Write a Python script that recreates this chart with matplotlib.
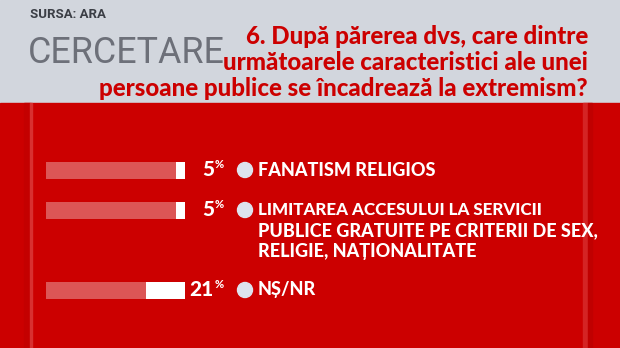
import matplotlib.pyplot as plt
from matplotlib.patches import Rectangle, Circle

# data
labels = [
    "FANATISM RELIGIOS",
    "LIMITAREA ACCESULUI LA SERVICII\nPUBLICE GRATUITE PE CRITERII DE SEX,\nRELIGIE, NAȚIONALITATE",
    "NȘ/NR",
]
values = [5, 5, 21]
title_lines = [
    "6. După părerea dvs, care dintre",
    "următoarele caracteristici ale unei",
    "persoane publice se încadrează la extremism?",
]
source = "SURSA: ARA"
brand = "CERCETARE"

# layout (pixels, top-down)
W, H = 620, 348
row_y = [170, 210, 290]
TRACK = 75

RED = "#cc0000"
GREY_BG = "#d2d6dd"
TRACK_C = "#dc5656"

fig = plt.figure(figsize=(W / 100, H / 100), dpi=100)
bg = fig.add_axes([0, 0, 1, 1])
bg.set_xlim(0, W)
bg.set_ylim(H, 0)
bg.axis("off")
renderer = fig.canvas.get_renderer()


def fit(t, width):
    # shrink/grow a text so it spans `width` pixels
    w = t.get_window_extent(renderer).width
    t.set_fontsize(t.get_fontsize() * width / w)


bg.add_patch(Rectangle((0, 0), W, 103, color=GREY_BG, zorder=0))
bg.add_patch(Rectangle((0, 103), W, H - 103, color=RED, zorder=0))
# subtle folds
bg.add_patch(Rectangle((24, 103), 6, H - 103, color="#c40000", zorder=1))
bg.add_patch(Rectangle((30, 103), 2, H - 103, color="#d83030", zorder=1))
bg.add_patch(Rectangle((583, 103), 5, H - 103, color="#d42424", zorder=1))
bg.add_patch(Rectangle((588, 103), 4, H - 103, color="#c00000", zorder=1))

heavy = dict(family=["Lato", "Open Sans", "DejaVu Sans"], weight="black")
narrow = ["Roboto", "DejaVu Sans"]

bg.text(30, 15, source, family=narrow, weight="bold", fontsize=9.5,
        color="#3b3e45", va="center", ha="left")
t = bg.text(28, 53, brand, family=narrow, weight="normal", fontsize=40,
            color="#6d7079", va="center", ha="left")
fit(t, 196)

tl = []
for i, line in enumerate(title_lines):
    tl.append(bg.text(588, 36 + i * 26, line, color=RED, fontsize=16,
                      ha="right", va="center", **heavy))
w = tl[2].get_window_extent(renderer).width
for t in tl:
    t.set_fontsize(16 * 488 / w)

for y, v, lab in zip(row_y, values, labels):
    bg.text(214, y, str(v), color="white", fontsize=15, ha="right",
            va="center", **heavy)
    bg.text(215, y - 5, "%", color="white", fontsize=8, ha="left",
            va="center", **heavy)
    bg.add_patch(Circle((245, y), 7.5, color="#dde3ee", zorder=3))
    for k, part in enumerate(lab.split("\n")):
        t = bg.text(258, y + k * 20.5, part, color="white", fontsize=13,
                    ha="left", va="center", **heavy)
        if part.startswith("LIMITAREA"):
            fit(t, 284)

# bars (grow right-to-left)
ax = fig.add_axes([46 / W, 1 - 310 / H, 139 / W, 160 / H])
ax.set_xlim(TRACK, 0)
ax.set_ylim(310, 150)
ax.axis("off")
ax.barh(row_y, [TRACK] * len(values), height=17, color=TRACK_C)
ax.barh(row_y, values, height=17, color="white")

fig.savefig("out.png", dpi=100)
